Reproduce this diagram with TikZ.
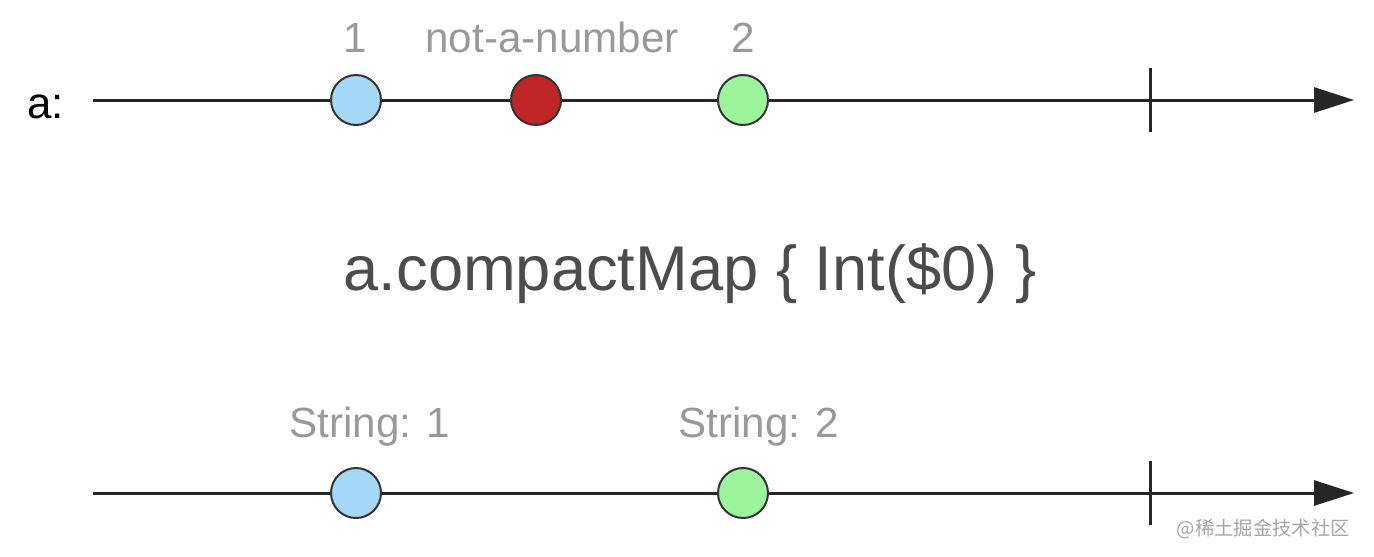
\documentclass[tikz,border=0pt]{standalone}
\usepackage{fontspec}
\setmainfont{Liberation Sans}
\newfontfamily\cjk{Noto Sans CJK SC}
\usetikzlibrary{arrows.meta}
\definecolor{ballblue}{HTML}{A6D8F8}
\definecolor{ballred}{HTML}{C02626}
\definecolor{ballgreen}{HTML}{9CF59C}

\begin{document}
\begin{tikzpicture}[x=0.02cm,y=-0.02cm,
    ball/.style={circle,draw=black!80,line width=0.4mm,minimum size=1cm,inner sep=0pt},
    lbl/.style={anchor=base,text=black!40,font=\fontsize{24}{28}\selectfont},
    axis/.style={line width=0.6mm,black!85,-{Triangle[length=8mm,width=5mm]}}]
      \useasboundingbox (0,0) rectangle (1374,556);
      % input sequence a
      \node[anchor=base west,font=\fontsize{25}{30}\selectfont] (aname) at (21,118) {a:};
      \coordinate (astart) at (93,100);
      \coordinate (aend) at (1354,100);
      \draw[axis] (astart) -- (aend);
      \draw[line width=0.6mm, black!85] (1150,68) -- (1150,132);
      \foreach \n/\x/\c in {aone/356/ballblue, anan/536/ballred, atwo/743/ballgreen}{
          \node[ball, fill=\c] (\n) at (\x,100) {};
      }
      \foreach \n/\x/\t in {laone/355/1, lanan/552/not-a-number, latwo/743/2}{
          \node[lbl] (\n) at (\x,52) {\t};
      }
      % operator
      \node[anchor=base, text=black!70, font=\fontsize{36}{40}\selectfont] (op) at (690,290) {a.compactMap \{ Int(\$0) \}};
      % output sequence
      \coordinate (bstart) at (93,493);
      \coordinate (bend) at (1354,493);
      \draw[axis] (bstart) -- (bend);
      \draw[line width=0.6mm, black!85] (1150,461) -- (1150,525);
      \foreach \n/\x/\c in {bone/356/ballblue, btwo/743/ballgreen}{
          \node[ball, fill=\c] (\n) at (\x,493) {};
      }
      \foreach \n/\x/\t in {lbone/370/String: 1, lbtwo/759/String: 2}{
          \node[lbl] (\n) at (\x,437) {\t};
      }
      \node[anchor=base east, text=black!35, font=\cjk\fontsize{11}{12}\selectfont] (mark) at (1356,535) {@稀土掘金技术社区};
\end{tikzpicture}
\end{document}
